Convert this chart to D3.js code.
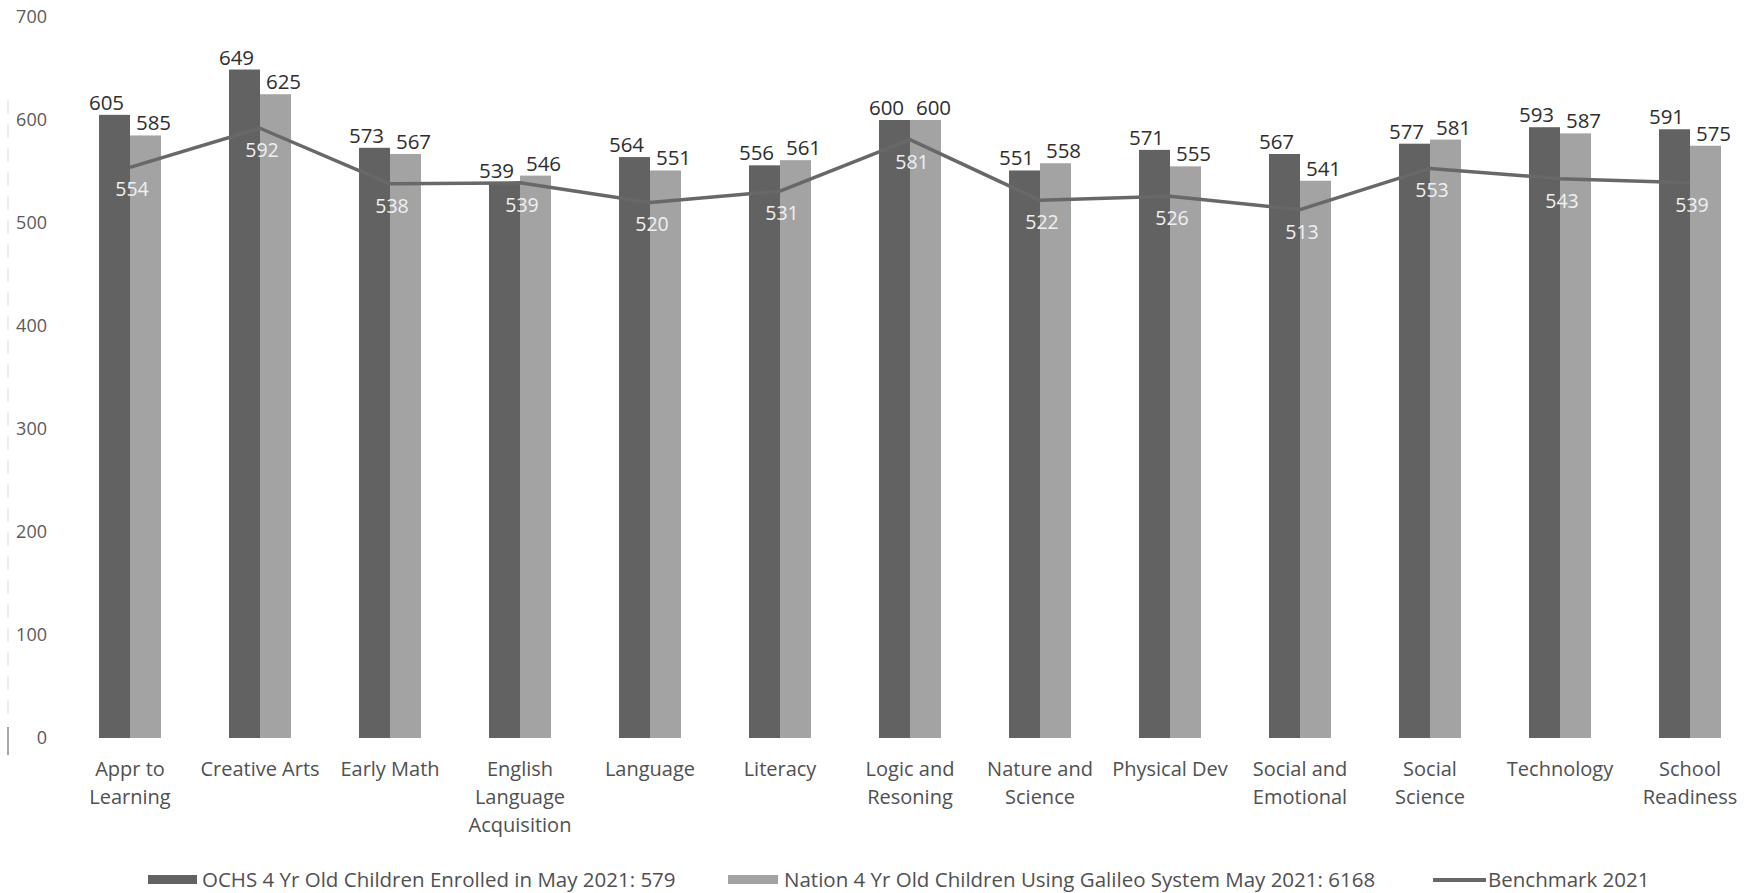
<!DOCTYPE html>
<html>
<head>
<meta charset="utf-8">
<script src="https://cdn.jsdelivr.net/npm/d3@7/dist/d3.min.js"></script>
<style>
  html, body { margin: 0; padding: 0; background: #ffffff; }
  svg { display: block; font-family: "Open Sans", "Noto Sans", sans-serif; }
</style>
</head>
<body>
<svg id="chart" width="1744" height="893"></svg>
<script>
// Galileo domain scores, 4-year-olds, May 2021
const categories = [
  "Appr to Learning", "Creative Arts", "Early Math", "English Language Acquisition",
  "Language", "Literacy", "Logic and Resoning", "Nature and Science",
  "Physical Dev", "Social and Emotional", "Social Science", "Technology", "School Readiness"
];
const categoryLines = [
  ["Appr to", "Learning"], ["Creative Arts"], ["Early Math"], ["English", "Language", "Acquisition"],
  ["Language"], ["Literacy"], ["Logic and", "Resoning"], ["Nature and", "Science"],
  ["Physical Dev"], ["Social and", "Emotional"], ["Social", "Science"], ["Technology"], ["School", "Readiness"]
];
const ochsScores   = [605, 649, 573, 539, 564, 556, 600, 551, 571, 567, 577, 593, 591];
const nationScores = [585, 625, 567, 546, 551, 561, 600, 558, 555, 541, 581, 587, 575];
const benchmark    = [554, 592, 538, 539, 520, 531, 581, 522, 526, 513, 553, 543, 539];
const yTicks = [0, 100, 200, 300, 400, 500, 600, 700];
const legendLabels = [
  "OCHS 4 Yr Old Children Enrolled in May 2021: 579",
  "Nation 4 Yr Old Children Using Galileo System May 2021: 6168",
  "Benchmark 2021"
];

const colors = { ochs: "#626262", nation: "#a3a3a3", line: "#686868" };

const svg = d3.select("#chart");

const x = d3.scaleBand().domain(categories).range([65, 1755]).paddingInner(0).paddingOuter(0);
const y = d3.scaleLinear().domain([0, 700]).range([738, 17]);
const series = d3.scaleBand().domain(["ochs", "nation"]).range([-31, 31]);

const center = c => x(c) + x.bandwidth() / 2;

// faint left edge rule
svg.append("line")
  .attr("x1", 8).attr("x2", 8).attr("y1", 100).attr("y2", 725)
  .attr("stroke", "#e6e6e6").attr("stroke-width", 1.5).attr("stroke-dasharray", "14 10");
svg.append("line")
  .attr("x1", 8).attr("x2", 8).attr("y1", 727).attr("y2", 755)
  .attr("stroke", "#8a8a8a").attr("stroke-width", 1.5);

// y axis labels
const yAxis = d3.axisLeft(y).tickValues(yTicks).tickSize(0).tickPadding(0);
const gy = svg.append("g").attr("transform", "translate(47,0)").call(yAxis);
gy.select(".domain").remove();
gy.selectAll("text")
  .attr("fill", "#5a5a5a").style("font-size", "18px")
  .style("font-family", "\"Open Sans\", sans-serif");

// bars
const rows = categories.map((c, i) => ({ c, ochs: ochsScores[i], nation: nationScores[i], bench: benchmark[i] }));

const groups = svg.append("g").selectAll("g").data(rows).join("g")
  .attr("transform", d => `translate(${center(d.c)},0)`);

["ochs", "nation"].forEach(key => {
  groups.append("rect")
    .attr("x", series(key))
    .attr("width", series.bandwidth())
    .attr("y", d => y(d[key]))
    .attr("height", d => y(0) - y(d[key]))
    .attr("fill", colors[key]);
});

// value labels above bars
const labelShift = { ochs: -8, nation: 8 };
["ochs", "nation"].forEach(key => {
  groups.append("text")
    .attr("x", series(key) + series.bandwidth() / 2 + labelShift[key])
    .attr("y", d => y(d[key]) - 5)
    .attr("text-anchor", "middle")
    .attr("fill", "#2e2e2e")
    .style("font-size", "20.5px")
    .text(d => d[key]);
});

// benchmark line
const line = d3.line().x(d => center(d.c)).y(d => y(d.bench));
svg.append("path")
  .datum(rows)
  .attr("d", line)
  .attr("fill", "none")
  .attr("stroke", colors.line)
  .attr("stroke-width", 3.5)
  .attr("stroke-linejoin", "round");

// benchmark labels
svg.append("g").selectAll("text").data(rows).join("text")
  .attr("x", d => center(d.c) + 2)
  .attr("y", d => y(d.bench) + 29)
  .attr("text-anchor", "middle")
  .attr("fill", "#f0f0f0")
  .style("font-size", "19.5px")
  .text(d => d.bench);

// x axis category labels
const xAxis = d3.axisBottom(x).tickSize(0).tickPadding(0);
const gx = svg.append("g").attr("transform", "translate(0,776)").call(xAxis);
gx.select(".domain").remove();
gx.selectAll("text")
  .attr("y", 0).attr("dy", null)
  .attr("fill", "#505050")
  .style("font-size", "20px")
  .style("font-family", "\"Open Sans\", sans-serif")
  .each(function(d, i) {
    const t = d3.select(this).text(null);
    categoryLines[i].forEach((ln, k) => {
      t.append("tspan").attr("x", 0).attr("y", k * 28).text(ln);
    });
  });

// legend
const legend = svg.append("g").style("font-size", "20.5px").attr("fill", "#505050");
legend.append("rect").attr("x", 148).attr("y", 875).attr("width", 49).attr("height", 9).attr("fill", colors.ochs);
legend.append("text").attr("x", 202).attr("y", 887).text(legendLabels[0]);
legend.append("rect").attr("x", 728).attr("y", 875).attr("width", 50).attr("height", 9).attr("fill", colors.nation);
legend.append("text").attr("x", 784).attr("y", 887).text(legendLabels[1]);
legend.append("line").attr("x1", 1433).attr("x2", 1486).attr("y1", 880).attr("y2", 880)
  .attr("stroke", colors.line).attr("stroke-width", 4);
legend.append("text").attr("x", 1488).attr("y", 887).text(legendLabels[2]);
</script>
</body>
</html>
